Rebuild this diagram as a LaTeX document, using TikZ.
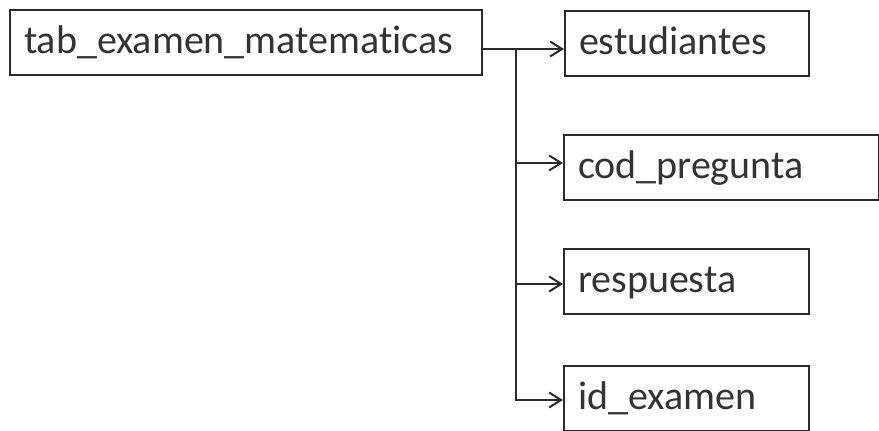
\documentclass[tikz,border=0pt]{standalone}
\usepackage{fontspec}
\setmainfont{Carlito}[Ligatures=NoCommon]
\usetikzlibrary{arrows.meta,positioning}
\definecolor{borde}{HTML}{2B2B2B}
\definecolor{letra}{HTML}{333333}
\tikzset{
  campo/.style  = { draw=borde, line width=2pt, rectangle, align=left, text=letra,
    inner xsep=14pt, inner ysep=0pt, minimum height=65pt,
    text height=30pt, text depth=7pt, font=\fontsize{40}{48}\selectfont },
  rama/.style   = { draw=borde, line width=2pt },
  flecha/.style = { rama, -{Straight Barb[length=12pt,width=15pt]} }
}

\begin{document}
\begin{tikzpicture}[x=1pt,y=1pt]
    \useasboundingbox (0,0) rectangle (879,431);
    % tabla -> campos
    \node[campo, text width=444pt, anchor=north west] (tabla) at (9,422) {tab\_examen\_matematicas};
    \node[campo, text width=216pt, anchor=north west] (estudiantes) at (564,421) {estudiantes};
    \node[campo, text width=287pt, anchor=north west] (pregunta) at (563,297) {cod\_pregunta};
    \node[campo, text width=217pt, anchor=north west] (respuesta) at (563,183) {respuesta};
    \node[campo, text width=217pt, anchor=north west] (examen) at (563,66) {id\_examen};

    \coordinate (nudo) at (516,382);
    \path[rama] (nudo -| tabla.east) -- (nudo);
    \path[flecha] (nudo) -- (nudo -| estudiantes.west);
    \path[flecha] (nudo) |- ([yshift=4.5pt]pregunta.west);
    \path[flecha] (nudo) |- ([yshift=-2.5pt]respuesta.west);
    \path[flecha] (nudo) |- ([yshift=-1.5pt]examen.west);
  \end{tikzpicture}
\end{document}
